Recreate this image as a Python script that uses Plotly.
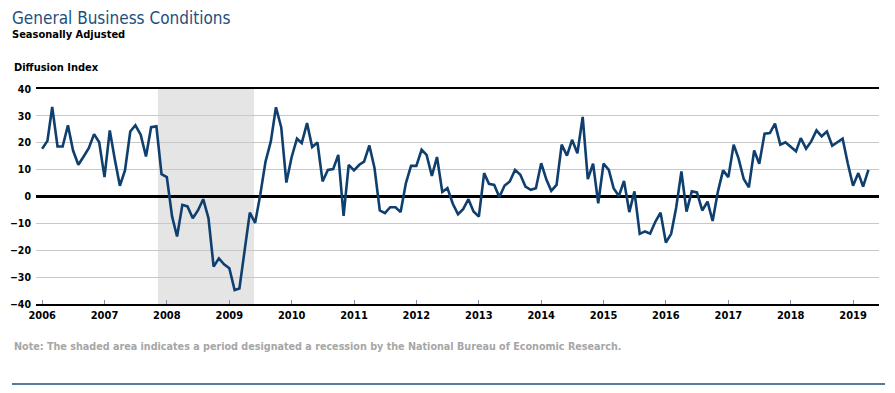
import plotly.graph_objects as go
import pandas as pd

start_month = "2006-01-01"
values = [
    17.8, 20.7, 33.3, 18.6, 18.6, 26.5, 17.1, 11.8, 14.9, 18.0, 23.2, 20.2,
    7.2, 24.6, 14.3, 4.0, 9.7, 24.2, 26.5, 23.0, 14.9, 25.8, 26.1, 8.3,
    7.2, -7.5, -14.9, -3.1, -3.7, -8.1, -5.2, -1.0, -8.1, -26.1, -23.0, -25.2,
    -26.7, -34.8, -34.2, -19.9, -6.0, -9.8, 0.6, 13.0, 20.5, 33.2, 25.7, 5.2,
    14.7, 21.5, 19.9, 27.3, 18.4, 20.1, 5.6, 9.9, 10.2, 15.5, -7.2, 11.8,
    9.7, 11.8, 13.0, 19.0, 10.6, -5.2, -6.2, -4.0, -4.0, -5.8, 5.0, 11.4,
    11.4, 17.4, 15.5, 7.7, 14.7, 1.7, 3.1, -2.6, -6.6, -4.7, -1.0, -5.6,
    -7.5, 8.7, 4.7, 4.3, -0.2, 4.1, 5.6, 9.9, 8.1, 3.7, 2.5, 3.1,
    12.4, 6.2, 2.1, 4.3, 19.3, 15.2, 21.1, 16.1, 29.6, 6.5, 12.2, -2.5,
    12.2, 9.9, 3.1, 0.2, 5.8, -5.8, 1.9, -13.9, -13.0, -13.8, -9.3, -6.0,
    -17.1, -13.9, -4.3, 9.3, -5.6, 1.9, 1.5, -5.2, -1.9, -9.1, 1.9, 9.7,
    7.2, 19.3, 14.3, 6.5, 3.4, 17.1, 12.2, 23.4, 23.6, 27.1, 19.3, 20.2,
    18.6, 16.8, 21.7, 17.8, 20.5, 24.6, 22.4, 24.2, 18.9, 20.1, 21.5, 12.4,
    4.0, 8.7, 3.7, 9.9,
]
dates = pd.date_range(start_month, periods=len(values), freq="MS")

year_ticks = [f"{y}-01-01" for y in range(2006, 2020)]
year_labels = [str(y) for y in range(2006, 2020)]
y_ticks = [40, 30, 20, 10, 0, -10, -20, -30, -40]

recession_start = "2007-11-10"
recession_end = "2009-05-26"

title = "General Business Conditions"
subtitle = "Seasonally Adjusted"
axis_title = "Diffusion Index"
note = "Note: The shaded area indicates a period designated a recession by the National Bureau of Economic Research."

FONT = "DejaVu Sans Condensed, Liberation Sans Narrow, Roboto, sans-serif"
BLUE = "#0e3f6e"
TITLE_BLUE = "#1d4f7e"

# page offset of the plot div (browser body margin)
OFF = 8
W, H = 895 - OFF, 393 - OFF
# target plot box in page pixels
PL, PR, PT, PB = 36, 879, 89, 304
L, R, T, B = PL - OFF, W - (PR - OFF), PT - OFF, H - (PB - OFF)
pw, ph = W - L - R, H - T - B

def px(x):
    return (x - PL) / pw

def py(y):
    return (PB - y) / ph

header = (f"<span style='font-size:17px;color:{TITLE_BLUE};font-weight:normal'>{title}</span>"
          f"<br><b>{subtitle}</b>")

fig = go.Figure()
fig.add_trace(go.Scatter(x=dates, y=values, mode="lines",
                         line=dict(color=BLUE, width=2.6), hoverinfo="x+y"))

fig.update_layout(
    width=W, height=H,
    margin=dict(l=L, r=R, t=T, b=B, pad=0, autoexpand=False),
    paper_bgcolor="white", plot_bgcolor="white",
    showlegend=False,
    font=dict(family=FONT, size=12, color="#000000"),
    xaxis=dict(
        type="date",
        range=["2005-11-26", "2019-06-02"],
        tickvals=year_ticks, ticktext=year_labels,
        ticks="inside", ticklen=4, tickcolor="#7f93a8", tickwidth=1,
        showgrid=False, zeroline=False,
        showline=True, linecolor="#000000", linewidth=1.5, mirror=True,
        tickfont=dict(family=FONT, size=11, color="#000000", weight="bold"),
        automargin=False, fixedrange=True,
    ),
    yaxis=dict(
        range=[-40, 40],
        tickvals=y_ticks,
        showgrid=True, gridcolor="#c8c8c8", gridwidth=1,
        zeroline=True, zerolinecolor="#000000", zerolinewidth=2.5,
        showline=False, ticks="",
        ticklabelstandoff=4,
        tickfont=dict(family=FONT, size=10.5, color="#000000", weight="bold"),
        automargin=False, fixedrange=True,
    ),
    annotations=[
        dict(text=header, x=px(11), y=py(42.5), xref="paper", yref="paper",
             xanchor="left", yanchor="bottom", align="left", showarrow=False, borderpad=0,
             font=dict(family=FONT, size=11, color="#000000")),
        dict(text=axis_title, x=px(12), y=py(67), xref="paper", yref="paper",
             xanchor="left", yanchor="middle", showarrow=False,
             font=dict(family=FONT, size=11, color="#000000", weight="bold")),
        dict(text=note, x=px(12), y=py(346), xref="paper", yref="paper",
             xanchor="left", yanchor="middle", showarrow=False,
             font=dict(family=FONT, size=10.7, color="#a6a6a6", weight="bold")),
    ],
    shapes=[
        dict(type="rect", xref="x", yref="paper", x0=recession_start, x1=recession_end,
             y0=0, y1=1, fillcolor="#e5e5e5", line=dict(width=0), layer="below"),
        dict(type="line", xref="paper", yref="paper", x0=px(12), x1=px(885),
             y0=py(384), y1=py(384), line=dict(color=TITLE_BLUE, width=1.5)),
    ],
)

fig.write_html("out.html")
